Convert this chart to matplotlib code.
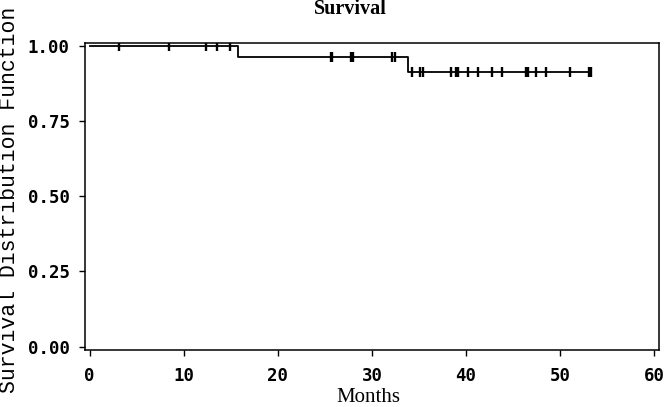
import numpy as np
import matplotlib
matplotlib.use("Agg")
import matplotlib.pyplot as plt

# ---- data ----
step_times = [0.0, 15.8, 33.8]          # start and event times (months)
step_surv = [1.0, 0.962, 0.911]          # survival after each time
end_time = 53.3                          # last follow-up
censor_times = [3.1, 8.4, 12.4, 13.5, 14.9,
                25.6, 25.8, 27.8, 28.0, 32.1, 32.4,
                34.3, 35.1, 35.4, 38.4, 38.9, 39.1, 40.2, 41.3, 42.7, 43.8,
                46.4, 46.6, 47.4, 48.5, 51.0, 53.1, 53.3]
x_ticks = [0, 10, 20, 30, 40, 50, 60]
y_ticks = [0.00, 0.25, 0.50, 0.75, 1.00]
y_tick_labels = ["0.00", "0.25", "0.50", "0.75", "1.00"]

fig = plt.figure(figsize=(6.65, 4.07), dpi=100)
ax = fig.add_axes([85 / 665, 1 - 350 / 407, (659 - 85) / 665, (350 - 43.3) / 407])

xs = list(step_times) + [end_time]
ys = list(step_surv) + [step_surv[-1]]
ax.step(xs, ys, where="post", color="black", lw=1.3)

def surv_at(t):
    idx = np.searchsorted(step_times, t, side="right") - 1
    return step_surv[idx]

cy = [surv_at(t) for t in censor_times]
ax.plot(censor_times, cy, linestyle="none", marker="|", markersize=6.5,
        markeredgewidth=1.7, color="black")

ax.set_xlim(-0.5, 60.5)
ax.set_ylim(-0.011, 1.008)
ax.set_xticks(x_ticks)
ax.set_yticks(y_ticks)
ax.set_yticklabels(y_tick_labels)
for s in ax.spines.values():
    s.set_linewidth(1.1)
    s.set_color("black")
ax.tick_params(axis="both", direction="out", length=4, width=1.0, color="black")
ax.tick_params(axis="x", pad=8)
ax.tick_params(axis="y", pad=7)
for lab in ax.get_xticklabels() + ax.get_yticklabels():
    lab.set_fontfamily("DejaVu Sans Mono")
    lab.set_fontweight("bold")
    lab.set_fontsize(12.5)

fig.text(350 / 665, 1 - 9 / 407, "Survival", ha="center", va="center",
         family="Liberation Serif", fontweight="bold", fontsize=14.5)
fig.text(368 / 665, 1 - 397 / 407, "Months", ha="center", va="center",
         family="Liberation Serif", fontsize=15)
fig.text(10 / 665, 1 - 200 / 407, "Survival Distribution Function",
         rotation=90, ha="center", va="center",
         family="Liberation Mono", fontsize=15.5)

fig.savefig("out.png", dpi=100)
